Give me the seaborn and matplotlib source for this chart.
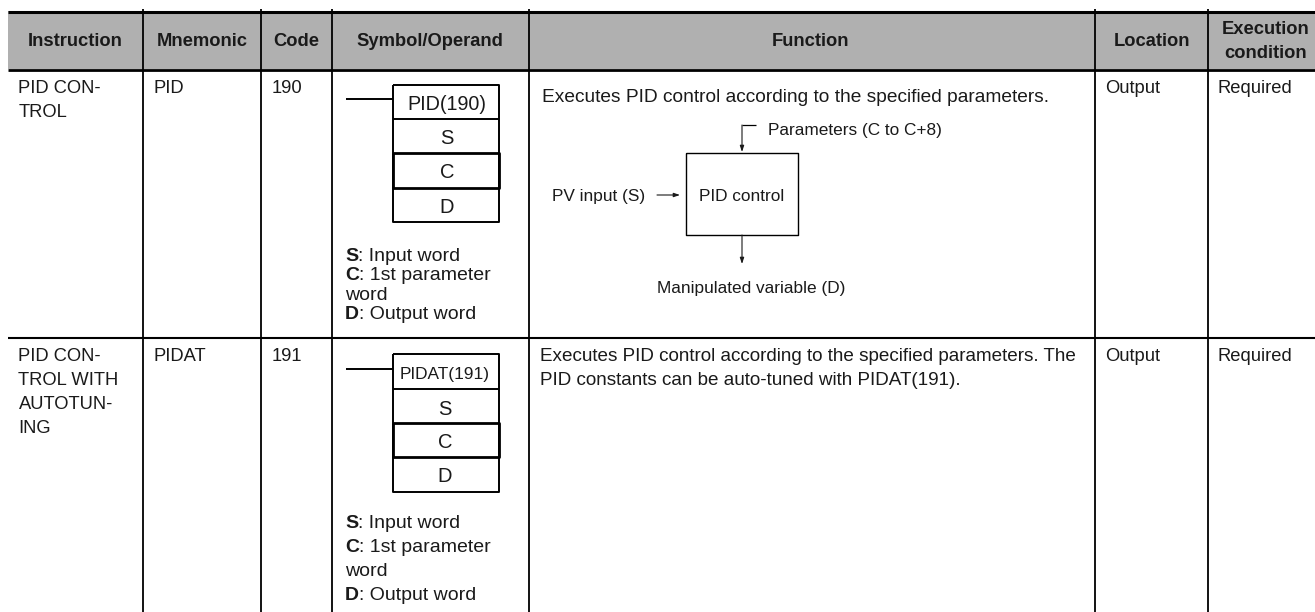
import matplotlib
matplotlib.use('Agg')
import matplotlib.pyplot as plt
import seaborn as sns

sns.set_theme(style='white')
plt.rcParams['font.family'] = ['Liberation Sans', 'DejaVu Sans']

# table content
headers = ['Instruction', 'Mnemonic', 'Code', 'Symbol/Operand', 'Function', 'Location']
header_x = [75, 202, 296, 430, 811, 1152]
col_edges = [143, 261, 332, 529, 1095, 1208]
row1 = ['PID CON-\nTROL', 'PID', '190', 'Output', 'Required']
row2 = ['PID CON-\nTROL WITH\nAUTOTUN-\nING', 'PIDAT', '191', 'Output', 'Required']
cell_x = [18.5, 154, 272, 1105.5, 1218]
operands = ['S', 'C', 'D']
ink = '#1a1a1a'
fs = 13.2

fig, ax = plt.subplots(figsize=(13.15, 6.12), dpi=100)
ax.set_position([0, 0, 1, 1])
ax.set_xlim(0, 1315)
ax.set_ylim(612, 0)
ax.axis('off')


def rule(xs, ys, lw=2, color='black'):
    sns.lineplot(x=xs, y=ys, color=color, linewidth=lw, ax=ax, sort=False,
                 estimator=None, solid_capstyle='butt')


def put(x, y, s, size=fs, weight='normal', ha='left'):
    ax.text(x, y, s, fontsize=size, fontweight=weight, ha=ha, va='baseline',
            color=ink)


def lines(x, baselines, items, size=fs):
    for y, s in zip(baselines, items):
        put(x, y, s, size=size)


def arrow(x0, y0, x1, y1):
    ax.annotate('', xy=(x1, y1), xytext=(x0, y0),
                arrowprops=dict(arrowstyle='-|>,head_length=0.3,head_width=0.1',
                                color=ink, lw=0.8, shrinkA=0, shrinkB=0))


# header band and rules
ax.axhspan(11, 69, xmin=8 / 1315, xmax=1, color='#b0b0b0', lw=0)
rule([8, 1315], [11.5, 11.5], lw=2.2)
rule([8, 1315], [69.5, 69.5], lw=2)
rule([8, 1315], [338, 338], lw=1.5)
for x in col_edges:
    rule([x, x], [9, 612], lw=1.3)

for x, s in zip(header_x, headers):
    put(x, 46, s, weight='bold', ha='center')
put(1266, 34, 'Execution', weight='bold', ha='center')
put(1266, 58, 'condition', weight='bold', ha='center')

# cell text
for x, s, in zip(cell_x, row1):
    lines(x, [93, 117], s.split('\n'))
for x, s, in zip(cell_x, row2):
    lines(x, [361, 385, 409, 433], s.split('\n'))


def symbol(left, right, ys, lead_y, label, label_y, label_size, cx, text_ys):
    rule([346, left], [lead_y, lead_y], lw=1.4)
    rule([left, right, right, left, left], [ys[0], ys[0], ys[4], ys[4], ys[0]], lw=1.4)
    rule([left, right], [ys[1], ys[1]], lw=1.4)
    rule([left, right, right, left, left], [ys[2], ys[2], ys[3], ys[3], ys[2]], lw=2)
    put(cx, label_y, label, size=label_size, ha='center')
    for y, s in zip(text_ys, operands):
        put(cx, y, s, size=14.5, ha='center')


symbol(393, 499, [85, 119, 153, 188, 222], 99, 'PID(190)', 110, 14.2, 447, [144, 178, 213])
symbol(393, 499, [354, 389, 423, 457, 492], 369, 'PIDAT(191)', 379, 12.4, 445, [415, 448, 482])


def legend_lines(baselines):
    for y, key, rest in zip([baselines[0], baselines[1], baselines[3]], operands,
                            [': Input word', ': 1st parameter', ': Output word']):
        t = ax.text(345, y, key, fontsize=14, fontweight='bold', color=ink)
        bb = t.get_window_extent(fig.canvas.get_renderer())
        put(345 + bb.width, y, rest, size=14)
    put(345, baselines[2], 'word', size=14)


legend_lines([261, 280, 300, 319])
legend_lines([528, 552, 576, 600])

# function column
put(542, 102, 'Executes PID control according to the specified parameters.', size=13.8)
put(540, 361, 'Executes PID control according to the specified parameters. The', size=13.6)
put(540, 385, 'PID constants can be auto-tuned with PIDAT(191).', size=13.6)

rule([686, 798.5, 798.5, 686, 686], [153, 153, 235, 235, 153], lw=1)
rule([756, 742], [125, 125], lw=0.9)
arrow(742, 125, 742, 152)
arrow(657, 195, 680, 195)
arrow(742, 235, 742, 264)
put(768, 135, 'Parameters (C to C+8)', size=12.4)
put(552, 201, 'PV input (S)', size=12.4)
put(742, 201, 'PID control', size=12.4, ha='center')
put(657, 293, 'Manipulated variable (D)', size=12.4)

fig.savefig('out.png', dpi=100)
